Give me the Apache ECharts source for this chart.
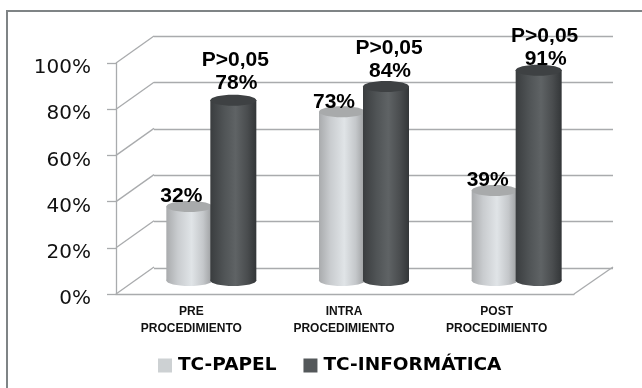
<!DOCTYPE html>
<html>
<head>
<meta charset="utf-8">
<style>html,body{margin:0;padding:0;background:#fff}#chart{width:642px;height:388px}</style>
<script src="https://cdn.jsdelivr.net/npm/echarts@6/dist/echarts.min.js"></script>
</head>
<body>
<div id="chart"></div>
<script>
// Data
const categories = ['PRE\nPROCEDIMIENTO', 'INTRA\nPROCEDIMIENTO', 'POST\nPROCEDIMIENTO'];
const tcPapel = [32, 73, 39];
const tcInformatica = [78, 84, 91];
const significance = ['P>0,05', 'P>0,05', 'P>0,05'];
const yTicks = [0, 20, 40, 60, 80, 100];

// Pseudo-3D layout: the back wall sits up and to the right of the front plane
const depth = { x: 38, y: -27 };
const barWidth = 46;
const barRy = 5.5;
const gridGrey = '#a9abad';

// Hand-placed value label nudges, relative to the bar top
const papelLabelShift = [[-8, -10], [-8, -10], [-7, -10]];
const infoLabelShift = [[3, -17], [4, -15], [7, -11]];
const pLabelGap = 23;

const labelFont = 'bold 21px "Liberation Sans", Arial, sans-serif';

function cylinder(api, side, stops, topColor, shift, extraLabel) {
  const cat = api.value(0);
  const val = api.value(1);
  const base = api.coord([cat, 0]);
  const top = api.coord([cat, val]);
  const cx = base[0] + depth.x / 2 + side * 22;
  const yb = base[1] + depth.y / 2;
  const yt = top[1] + depth.y / 2;
  const fill = new echarts.graphic.LinearGradient(0, 0, 1, 0, stops);
  const children = [
    { type: 'ellipse', shape: { cx: cx, cy: yb, rx: barWidth / 2, ry: barRy }, style: { fill: fill } },
    { type: 'rect', shape: { x: cx - barWidth / 2, y: yt, width: barWidth, height: yb - yt }, style: { fill: fill } },
    { type: 'ellipse', shape: { cx: cx, cy: yt, rx: barWidth / 2, ry: barRy }, style: { fill: topColor } }
  ];
  const lx = cx + shift[cat][0];
  const ly = yt + shift[cat][1];
  children.push({
    type: 'text', z2: 10,
    style: { x: lx, y: ly, text: val + '%', font: labelFont, fill: '#000', align: 'center', verticalAlign: 'middle' }
  });
  if (extraLabel) {
    children.push({
      type: 'text', z2: 10,
      style: { x: lx - 1, y: ly - pLabelGap, text: extraLabel[cat], font: labelFont, fill: '#000', align: 'center', verticalAlign: 'middle' }
    });
  }
  return { type: 'group', children: children };
}

const lightStops = [
  { offset: 0, color: '#a9abad' }, { offset: 0.25, color: '#c9cccf' },
  { offset: 0.55, color: '#e0e4e7' }, { offset: 0.8, color: '#c4c7ca' }, { offset: 1, color: '#9b9d9f' }
];
const darkStops = [
  { offset: 0, color: '#3a3d3f' }, { offset: 0.3, color: '#505456' },
  { offset: 0.55, color: '#5f6365' }, { offset: 0.8, color: '#4a4d4f' }, { offset: 1, color: '#333638' }
];

const chart = echarts.init(document.getElementById('chart'), null, { renderer: 'canvas' });
chart.setOption({
  animation: false,
  backgroundColor: '#fff',
  graphic: [{
    type: 'polyline', silent: true, z: -1,
    shape: { points: [[7, 388], [7, 11], [642, 11]] },
    style: { stroke: '#7f8486', lineWidth: 2, fill: null }
  }],
  legend: {
    left: 158, top: 356, padding: 0, itemWidth: 14, itemHeight: 14, itemGap: 27, icon: 'rect',
    textStyle: { fontFamily: '"DejaVu Sans"', fontWeight: 'bold', fontSize: 18.5, color: '#000', padding: [0, 0, 0, 1] },
    data: ['TC-PAPEL', 'TC-INFORMÁTICA']
  },
  grid: [
    { left: 116, top: 63, width: 458, height: 231 },
    { left: 154, top: 36, width: 459, height: 232 }
  ],
  xAxis: [
    {
      type: 'category', gridIndex: 0, data: categories,
      axisLine: { lineStyle: { color: gridGrey, width: 1.3 } },
      axisTick: { length: 5, lineStyle: { color: gridGrey, width: 1.3 } },
      axisLabel: {
        interval: 0, margin: 9, lineHeight: 17, color: '#111', fontWeight: 'bold', padding: [0, 2, 0, 0],
        fontFamily: '"Liberation Sans"', fontSize: 12
      }
    },
    { type: 'category', gridIndex: 1, data: categories, show: false }
  ],
  yAxis: [
    {
      type: 'value', gridIndex: 0, min: 0, max: 100, interval: 20,
      axisLine: { show: true, lineStyle: { color: gridGrey, width: 1.3 } },
      axisTick: { show: true, length: 9, lineStyle: { color: gridGrey, width: 1.3 } },
      splitLine: { show: false },
      axisLabel: {
        margin: 25, color: '#111', fontFamily: '"DejaVu Sans"', fontSize: 20,
        verticalAlign: 'top', lineHeight: 10, formatter: '{value}%'
      }
    },
    {
      type: 'value', gridIndex: 1, min: 0, max: 100, interval: 20,
      axisLine: { show: false }, axisTick: { show: false }, axisLabel: { show: false },
      splitLine: { show: true, lineStyle: { color: gridGrey, width: 1.3 } }
    }
  ],
  series: [
    {
      // Diagonal edges joining each front tick to the back wall, plus the right floor edge
      name: 'depth-edges', type: 'custom', xAxisIndex: 0, yAxisIndex: 0, silent: true, z: 1,
      data: yTicks.map(function (t) { return [0, t]; }),
      renderItem: function (params, api) {
        const y = api.coord([0, api.value(1)])[1];
        const x = api.coord([0, 0])[0] - api.size([1, 0])[0] / 2;
        const lines = [{
          type: 'line', shape: { x1: x, y1: y, x2: x + depth.x, y2: y + depth.y },
          style: { stroke: gridGrey, lineWidth: 1.3 }
        }];
        if (api.value(1) === 0) {
          const xr = x + api.size([1, 0])[0] * categories.length;
          lines.push({
            type: 'line', shape: { x1: xr, y1: y, x2: xr + depth.x + 1, y2: y + depth.y },
            style: { stroke: gridGrey, lineWidth: 1.3 }
          });
        }
        return { type: 'group', children: lines };
      }
    },
    {
      name: 'TC-PAPEL', type: 'custom', xAxisIndex: 0, yAxisIndex: 0, z: 3,
      itemStyle: { color: '#cdd1d3' },
      data: tcPapel.map(function (v, i) { return [i, v]; }),
      renderItem: function (params, api) {
        return cylinder(api, -1, lightStops, '#a8aaab', papelLabelShift, null);
      }
    },
    {
      name: 'TC-INFORMÁTICA', type: 'custom', xAxisIndex: 0, yAxisIndex: 0, z: 4,
      itemStyle: { color: '#54585a' },
      data: tcInformatica.map(function (v, i) { return [i, v]; }),
      renderItem: function (params, api) {
        return cylinder(api, 1, darkStops, '#3e4143', infoLabelShift, significance);
      }
    }
  ]
});
</script>
</body>
</html>
